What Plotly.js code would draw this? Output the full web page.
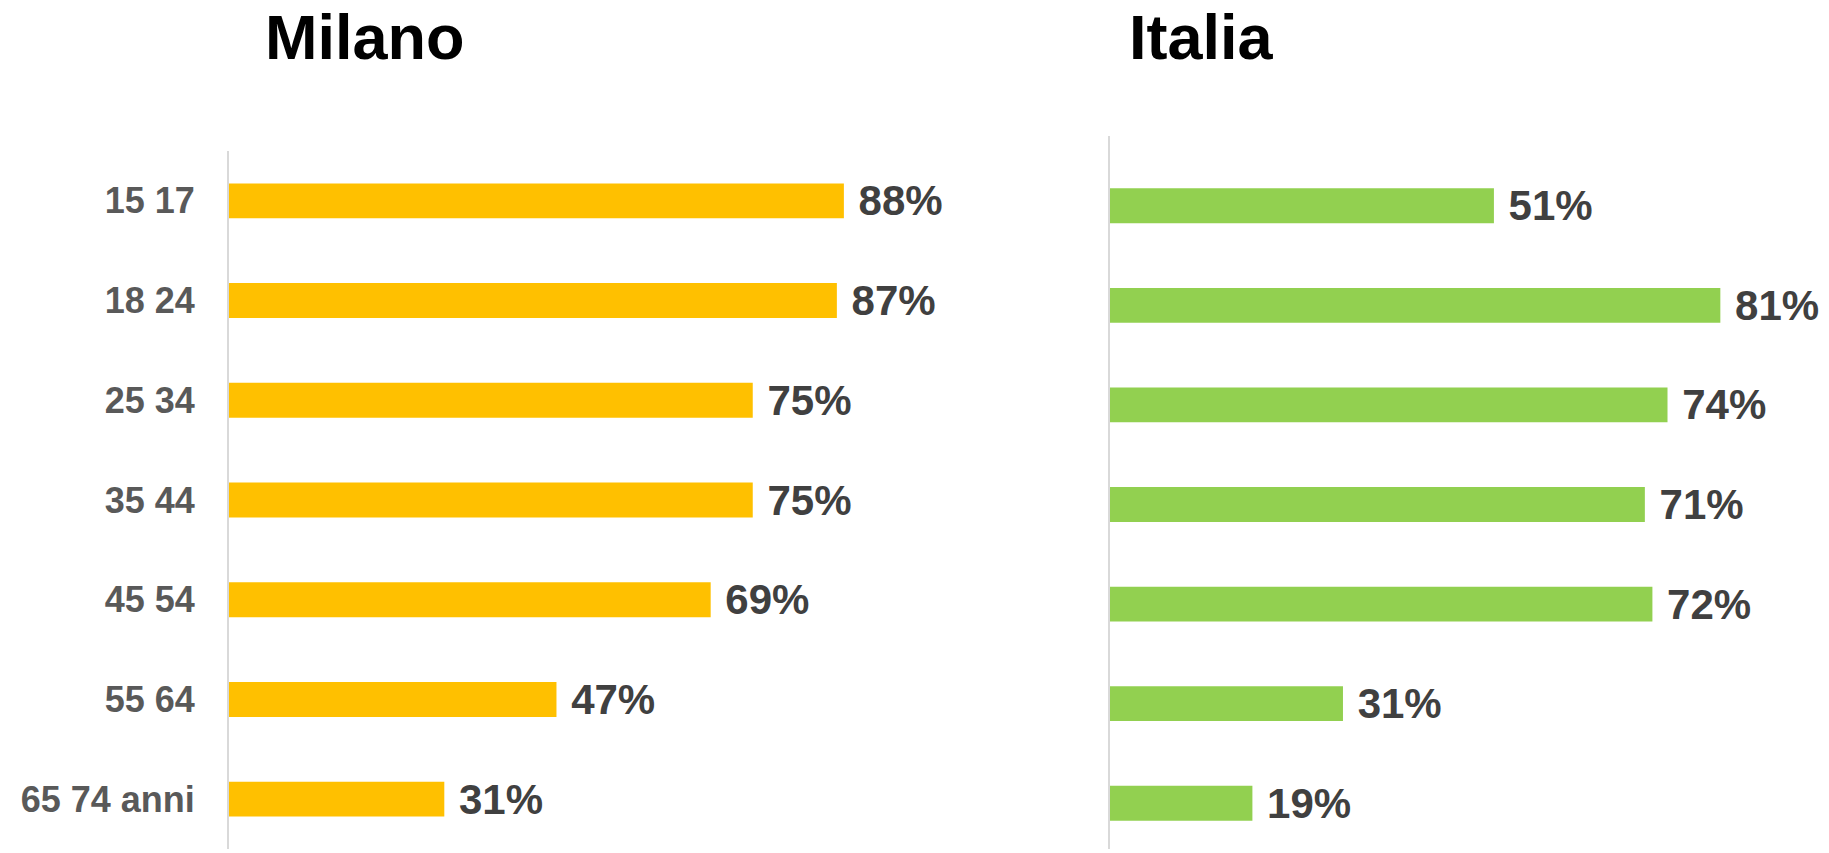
<!DOCTYPE html>
<html>
<head>
<meta charset="utf-8">
<script src="https://cdn.plot.ly/plotly-3.0.1.min.js"></script>
<style>html,body{margin:0;padding:0;background:#fff;}#chart{width:1829px;height:853px;}</style>
</head>
<body>
<div id="chart"></div>
<script>
var categories = ['15 17', '18 24', '25 34', '35 44', '45 54', '55 64', '65 74 anni'];
var milanoValues = [88, 87, 75, 75, 69, 47, 31];
var italiaValues = [51, 81, 74, 71, 72, 31, 19];
var panelTitles = ['Milano', 'Italia'];

var W = 1829, H = 853;
function px(x) { return x / W; }
function py(y) { return 1 - y / H; }

var labelFont = {family: 'Liberation Sans, Arial, sans-serif', size: 42, color: '#404040', weight: 'bold'};

var traces = [
  {
    type: 'bar', orientation: 'h',
    x: milanoValues, y: categories,
    xaxis: 'x', yaxis: 'y',
    marker: {color: '#FFC000'},
    text: milanoValues.map(function (v) { return '\u00a0' + v + '%'; }),
    textposition: 'outside',
    textfont: labelFont,
    constraintext: 'none',
    cliponaxis: false,
    hoverinfo: 'skip'
  },
  {
    type: 'bar', orientation: 'h',
    x: italiaValues, y: categories,
    xaxis: 'x2', yaxis: 'y2',
    marker: {color: '#92D050'},
    text: italiaValues.map(function (v) { return '\u00a0' + v + '%'; }),
    textposition: 'outside',
    textfont: labelFont,
    constraintext: 'none',
    cliponaxis: false,
    hoverinfo: 'skip'
  }
];

var layout = {
  width: W, height: H,
  margin: {l: 0, r: 0, t: 0, b: 0},
  paper_bgcolor: '#ffffff',
  plot_bgcolor: 'rgba(0,0,0,0)',
  showlegend: false,
  bargap: 0.65,
  font: {family: 'Liberation Sans, Arial, sans-serif'},
  xaxis: {
    domain: [px(227), px(928)], range: [0, 100],
    showgrid: false, zeroline: false, showline: false, showticklabels: false, fixedrange: true
  },
  yaxis: {
    domain: [py(849), py(151)], anchor: 'x',
    autorange: 'reversed', type: 'category',
    showgrid: false, zeroline: false, showline: false,
    ticks: 'outside', ticklen: 24, tickcolor: 'rgba(0,0,0,0)',
    tickfont: {family: 'Liberation Sans, Arial, sans-serif', size: 36, color: '#595959', weight: 'bold'},
    fixedrange: true
  },
  xaxis2: {
    domain: [px(1109), px(1826)], range: [0, 95], anchor: 'y2',
    showgrid: false, zeroline: false, showline: false, showticklabels: false, fixedrange: true
  },
  yaxis2: {
    domain: [py(853), py(156)], anchor: 'x2',
    autorange: 'reversed', type: 'category',
    showgrid: false, zeroline: false, showline: false, showticklabels: false, ticks: '',
    fixedrange: true
  },
  shapes: [
    {type: 'line', xref: 'paper', yref: 'paper', x0: px(228), x1: px(228), y0: py(151), y1: py(849),
     line: {color: '#d9d9d9', width: 2}},
    {type: 'line', xref: 'paper', yref: 'paper', x0: px(1109), x1: px(1109), y0: py(136), y1: py(849),
     line: {color: '#d9d9d9', width: 2}}
  ],
  annotations: [
    {text: panelTitles[0], xref: 'paper', yref: 'paper', x: px(365), y: 1, xanchor: 'center', yanchor: 'top',
     showarrow: false, font: {family: 'Liberation Sans, Arial, sans-serif', size: 63, color: '#000000', weight: 'bold'}},
    {text: panelTitles[1], xref: 'paper', yref: 'paper', x: px(1201), y: 1, xanchor: 'center', yanchor: 'top',
     showarrow: false, font: {family: 'Liberation Sans, Arial, sans-serif', size: 63, color: '#000000', weight: 'bold'}}
  ]
};

Plotly.newPlot('chart', traces, layout, {displayModeBar: false, staticPlot: true});
</script>
</body>
</html>
